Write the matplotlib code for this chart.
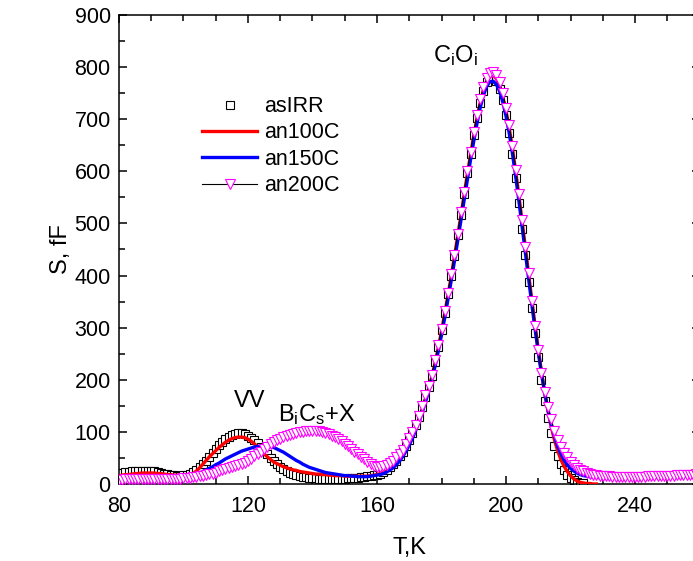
import numpy as np
import matplotlib
matplotlib.use("Agg")
import matplotlib.pyplot as plt
from matplotlib.ticker import MultipleLocator

plt.rcParams['font.family'] = ['Liberation Sans', 'DejaVu Sans']
plt.rcParams['mathtext.default'] = 'regular'

# DLTS signal S (fF) vs temperature T (K), 1 K steps starting at 80 K
T_START = 80

as_irr = [
    22, 22, 23, 23, 24, 24, 25, 25, 25, 25,            # 80-89
    25, 24, 23, 22, 20, 19, 18, 17, 16, 16,            # 90-99
    17, 18, 20, 23, 27, 32, 38, 45, 52, 60,            # 100-109
    67, 74, 80, 86, 91, 94, 96, 97, 97, 96,            # 110-119
    93, 89, 84, 78, 71, 64, 57, 50, 44, 38,            # 120-129
    33, 29, 25, 22, 19, 17, 15, 14, 13, 12,            # 130-139
    11, 11, 10, 10, 10, 10, 10, 10, 10, 10,            # 140-149
    10, 11, 11, 12, 12, 13, 14, 15, 16, 17,            # 150-159
    18, 20, 23, 27, 32, 38, 45, 53, 62, 73,            # 160-169
    85, 98, 113, 129, 147, 166, 186, 208, 234, 263,    # 170-179
    295, 329, 364, 400, 438, 477, 517, 557, 596, 634,  # 180-189
    670, 703, 732, 755, 771, 779, 780, 773, 758, 736,  # 190-199
    708, 674, 634, 588, 540, 490, 439, 388, 338, 290,  # 200-209
    244, 200, 160, 126, 97, 73, 54, 39, 27, 18,        # 210-219
    11, 7, 4, 2, 1,                                    # 220-224
]

an100c = [
    16, 17, 18, 18, 19, 20, 20, 21, 21, 21,            # 80-89
    21, 21, 20, 20, 19, 18, 18, 17, 17, 17,            # 90-99
    17, 17, 18, 20, 25, 31, 38, 45, 52, 58,            # 100-109
    64, 70, 75, 80, 84, 87, 89, 90, 90, 89,            # 110-119
    86, 82, 77, 71, 65, 58, 52, 47, 42, 39,            # 120-129
    36, 33, 31, 29, 27, 26, 24, 23, 22, 21,            # 130-139
    20, 19, 19, 18, 18, 17, 17, 16, 16, 16,            # 140-149
    15, 15, 15, 15, 15, 15, 15, 15, 16, 17,            # 150-159
    18, 20, 22, 25, 29, 34, 40, 48, 57, 68,            # 160-169
    80, 93, 108, 124, 142, 162, 183, 206, 232, 261,    # 170-179
    293, 327, 362, 398, 436, 475, 515, 555, 594, 632,  # 180-189
    668, 701, 731, 756, 773, 782, 784, 778, 764, 743,  # 190-199
    716, 683, 644, 600, 553, 504, 454, 403, 353, 305,  # 200-209
    259, 215, 175, 140, 110, 85, 64, 47, 34, 24,       # 210-219
    16, 10, 6, 3, 2, 1, 1, 0, 0,                       # 220-228
]

an150c = [
    9, 9, 9, 10, 10, 10, 10, 10, 10, 10,               # 80-89
    10, 10, 10, 10, 10, 10, 10, 10, 10, 11,            # 90-99
    12, 13, 15, 17, 19, 21, 24, 27, 30, 33,            # 100-109
    37, 40, 44, 48, 51, 54, 57, 60, 63, 65,            # 110-119
    67, 69, 71, 72, 73, 73, 73, 72, 70, 67,            # 120-129
    64, 61, 57, 53, 49, 45, 42, 38, 35, 32,            # 130-139
    30, 28, 26, 24, 22, 21, 20, 19, 18, 17,            # 140-149
    16, 16, 15, 15, 14, 14, 14, 14, 15, 16,            # 150-159
    17, 18, 20, 23, 27, 31, 37, 44, 53, 63,            # 160-169
    75, 88, 103, 119, 137, 157, 178, 201, 226, 255,    # 170-179
    286, 319, 354, 390, 427, 466, 505, 545, 584, 622,  # 180-189
    658, 692, 722, 746, 763, 772, 773, 767, 754, 733,  # 190-199
    706, 673, 634, 590, 543, 494, 444, 394, 345, 298,  # 200-209
    253, 212, 175, 143, 115, 92, 73, 58, 46, 37,       # 210-219
    30, 25, 21, 18, 16, 15, 14, 13, 13, 12,            # 220-229
    12, 12, 12, 12, 12, 12, 12, 12, 12, 12,            # 230-239
    12, 12, 12, 12, 12, 12, 12, 13, 13, 13,            # 240-249
    13, 13, 14, 14, 14, 15, 15, 16, 16, 17, 17,        # 250-260
]

an200c = [
    8, 8, 9, 9, 9, 10, 10, 10, 10, 10,                 # 80-89
    10, 10, 10, 10, 10, 10, 10, 10, 10, 10,            # 90-99
    11, 11, 12, 13, 14, 15, 16, 17, 19, 20,            # 100-109
    22, 24, 26, 28, 30, 32, 34, 36, 38, 41,            # 110-119
    44, 48, 53, 57, 62, 67, 71, 76, 80, 84,            # 120-129
    87, 90, 92, 94, 96, 98, 99, 100, 101, 102,         # 130-139
    102, 102, 101, 100, 98, 96, 93, 90, 86, 82,        # 140-149
    77, 72, 67, 62, 57, 52, 47, 42, 38, 35,            # 150-159
    33, 33, 34, 36, 40, 45, 51, 58, 66, 76,            # 160-169
    88, 100, 114, 130, 149, 170, 188, 210, 237, 266,   # 170-179
    298, 332, 367, 403, 440, 480, 521, 561, 600, 638,  # 180-189
    675, 708, 738, 762, 779, 788, 790, 785, 771, 750,  # 190-199
    722, 688, 648, 603, 556, 506, 455, 404, 352, 303,  # 200-209
    257, 213, 177, 148, 124, 102, 85, 71, 60, 51,      # 210-219
    43, 37, 31, 27, 24, 21, 19, 18, 17, 16,            # 220-229
    15, 15, 15, 14, 14, 14, 14, 14, 14, 14,            # 230-239
    14, 14, 14, 14, 15, 15, 15, 15, 15, 16,            # 240-249
    16, 16, 16, 17, 17, 17, 18, 18, 18, 19, 19,        # 250-260
]


def temps(values):
    return np.arange(T_START, T_START + len(values))


fig = plt.figure(figsize=(6.93, 5.61), dpi=100)
ax = fig.add_axes([0.1717, 0.1373, 0.8377, 0.836])

ax.plot(temps(as_irr), as_irr, linestyle='none', marker='s', markersize=6,
        markerfacecolor='white', markeredgecolor='black', markeredgewidth=0.8,
        label='asIRR', zorder=2)
ax.plot(temps(an100c), an100c, color='#ff0000', linewidth=2.4, label='an100C', zorder=3)
ax.plot(temps(an150c), an150c, color='#0000ff', linewidth=2.4, label='an150C', zorder=4)
ax.plot(temps(an200c), an200c, color='black', linewidth=0.8, marker='v', markersize=7.8,
        markerfacecolor='white', markeredgecolor='#ff00ff', markeredgewidth=0.8,
        label='an200C', zorder=5)

ax.set_xlim(80, 260)
ax.set_ylim(0, 900)
ax.xaxis.set_major_locator(MultipleLocator(40))
ax.xaxis.set_minor_locator(MultipleLocator(10))
ax.yaxis.set_major_locator(MultipleLocator(100))
ax.yaxis.set_minor_locator(MultipleLocator(50))
ax.tick_params(which='both', direction='in', top=True, right=True, width=1.1,
               labelsize=15.5)
ax.tick_params(axis='x', which='both', pad=9)
ax.tick_params(axis='y', which='both', pad=6)
ax.tick_params(which='major', length=6)
ax.tick_params(which='minor', length=4.5)
for sp in ax.spines.values():
    sp.set_linewidth(1.1)

ax.set_xlabel('T,K', fontsize=17, labelpad=14)
ax.set_ylabel('S, fF', fontsize=17, labelpad=2)

ax.text(177.4, 810, 'C$_i$O$_i$', fontsize=17)
ax.text(115.7, 148, 'VV', fontsize=17)
ax.text(129.3, 121, 'B$_i$C$_s$+X', fontsize=17)

ax.legend(loc='upper left', bbox_to_anchor=(0.125, 0.85), frameon=False,
          fontsize=15.5, handlelength=2.55, handletextpad=0.3, labelspacing=0.25,
          borderpad=0, numpoints=1)

fig.savefig('out.png', dpi=100)
